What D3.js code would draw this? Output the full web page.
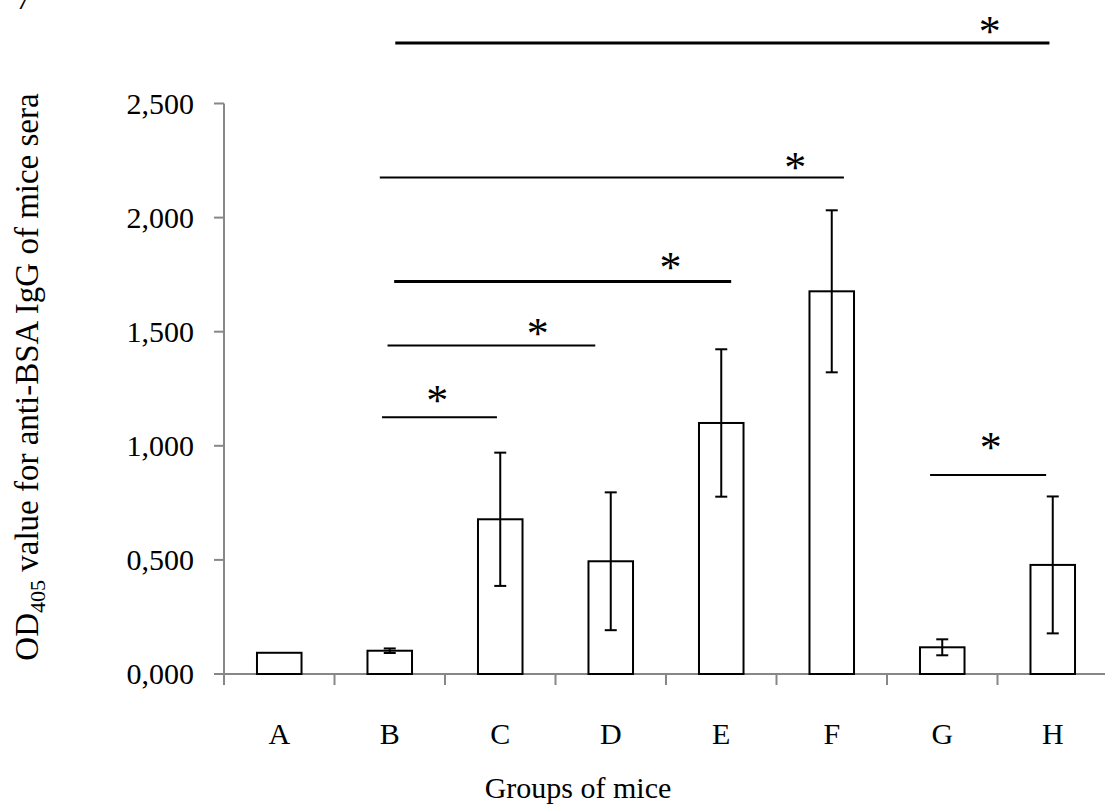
<!DOCTYPE html>
<html><head><meta charset="utf-8">
<script src="https://cdn.jsdelivr.net/npm/d3@7"></script>
<style>
body{margin:0;background:#fff;}
svg{display:block;}
text, tspan{font-family:"Liberation Serif","Times New Roman",serif;fill:#000;}
</style></head>
<body><svg id="c" width="1105" height="808"></svg>
<script>
// ---- data ----
const categories = ["A","B","C","D","E","F","G","H"];
const means  = [0.093, 0.102, 0.678, 0.494, 1.100, 1.677, 0.117, 0.478];
const errors = [0.000, 0.010, 0.292, 0.302, 0.323, 0.355, 0.035, 0.300];
const yTicks = [0, 0.5, 1.0, 1.5, 2.0, 2.5];
// significance brackets: x in category units (0..8), y in OD units
const sigX1   = [1.43, 1.48, 1.54, 1.41, 1.55, 6.39];
const sigX2   = [2.47, 3.36, 4.59, 5.61, 7.47, 7.44];
const sigY    = [1.125, 1.439, 1.720, 2.176, 2.765, 0.872];
const starX   = [1.93, 2.84, 4.04, 5.17, 6.93, 6.94];
const starY   = [1.222, 1.516, 1.805, 2.245, 2.838, 1.018];
const sigW    = [2, 2, 3, 2, 3, 2];
const yLabel = ["OD", "405", " value for anti-BSA IgG of mice sera"];
const xLabel = "Groups of mice";

(function(){
const svg = d3.select("#c");
const FF = "Liberation Serif, Times New Roman, serif";
const mL = 224, mR = 1108, mT = 103.5, mB = 674;
const FS = 30;

const x = d3.scaleBand().domain(categories).range([mL, mR]).padding(0);
const xu = d3.scaleLinear().domain([0, categories.length]).range([mL, mR]);
const y = d3.scaleLinear().domain([0, 2.5]).range([mB, mT]);
const fmt = v => d3.format(".3f")(v).replace(".", ",");
const axisCol = "#878787";

// y axis
svg.append("line").attr("x1", mL).attr("x2", mL).attr("y1", y(2.5)).attr("y2", y(0))
  .attr("stroke", axisCol).attr("stroke-width", 2);
yTicks.forEach(t => {
  svg.append("line").attr("x1", mL - 10).attr("x2", mL).attr("y1", y(t)).attr("y2", y(t))
    .attr("stroke", axisCol).attr("stroke-width", 2);
  svg.append("text").attr("x", 194).attr("y", y(t) + 10).attr("font-family", FF)
    .attr("text-anchor", "end").attr("font-size", FS).text(fmt(t));
});

// x axis
svg.append("line").attr("x1", mL - 10).attr("x2", mR + 5).attr("y1", y(0)).attr("y2", y(0))
  .attr("stroke", axisCol).attr("stroke-width", 2);
d3.range(categories.length + 1).forEach(i => {
  svg.append("line").attr("x1", xu(i)).attr("x2", xu(i)).attr("y1", y(0)).attr("y2", y(0) + 11)
    .attr("stroke", axisCol).attr("stroke-width", 2);
});
categories.forEach(c => {
  svg.append("text").attr("x", x(c) + x.bandwidth() / 2).attr("y", 744).attr("font-family", FF)
    .attr("text-anchor", "middle").attr("font-size", FS).text(c);
});

// bars
const bw = x.bandwidth() * 0.403;
categories.forEach((c, i) => {
  const cx = x(c) + x.bandwidth() / 2;
  svg.append("rect").attr("x", cx - bw / 2).attr("y", y(means[i]))
    .attr("width", bw).attr("height", y(0) - y(means[i]))
    .attr("fill", "#fff").attr("stroke", "#000").attr("stroke-width", 2);
});
// error bars
categories.forEach((c, i) => {
  if (errors[i] <= 0) return;
  const cx = x(c) + x.bandwidth() / 2;
  const hi = y(means[i] + errors[i]), lo = y(means[i] - errors[i]);
  const g = svg.append("g").attr("stroke", "#000").attr("stroke-width", 2);
  g.append("line").attr("x1", cx).attr("x2", cx).attr("y1", hi).attr("y2", lo);
  g.append("line").attr("x1", cx - 6).attr("x2", cx + 6).attr("y1", hi).attr("y2", hi);
  g.append("line").attr("x1", cx - 6).attr("x2", cx + 6).attr("y1", lo).attr("y2", lo);
});

// significance lines + stars
sigX1.forEach((a, i) => {
  svg.append("line").attr("x1", xu(a)).attr("x2", xu(sigX2[i])).attr("y1", y(sigY[i])).attr("y2", y(sigY[i]))
    .attr("stroke", "#000").attr("stroke-width", sigW[i]);
  svg.append("text").attr("x", xu(starX[i])).attr("y", y(starY[i]) + 20).attr("font-family", FF)
    .attr("text-anchor", "middle").attr("font-size", 44).text("*");
});

// axis titles
const yl = svg.append("text").attr("transform", `translate(38,377) rotate(-90)`)
  .attr("text-anchor", "middle").attr("font-size", 33).attr("font-family", FF);
yl.append("tspan").attr("font-family", FF).text(yLabel[0]);
yl.append("tspan").attr("font-family", FF).attr("font-size", 22).attr("dy", 7).text(yLabel[1]);
yl.append("tspan").attr("font-family", FF).attr("dy", -7).text(yLabel[2]);

svg.append("text").attr("x", 578).attr("y", 798).attr("font-family", FF)
  .attr("text-anchor", "middle").attr("font-size", FS).text(xLabel);

// cropped fragment at top-left
svg.append("text").attr("x", 16).attr("y", 9).attr("font-family", FF).attr("font-size", FS).text("7");
})();
</script></body></html>
